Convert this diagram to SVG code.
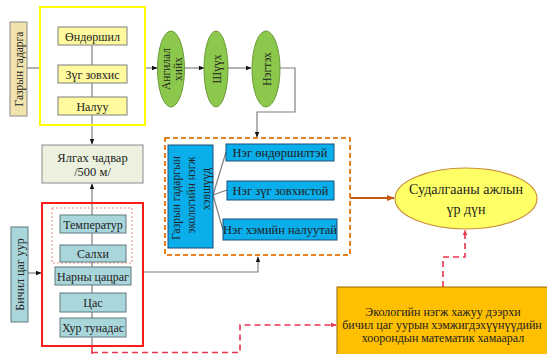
<svg xmlns="http://www.w3.org/2000/svg" width="547" height="354" viewBox="0 0 547 354" font-family="'Liberation Serif', 'DejaVu Serif', serif">
<defs>
<style>
text{font-family:"Liberation Serif","DejaVu Serif",serif;fill:#222;text-anchor:middle;dominant-baseline:central}
.t12{font-size:12px}
.t11{font-size:11.5px}
.lbl{fill:#F1E3AE;stroke:#8a8a8a;stroke-width:1}
.ybox{fill:#FFFA9E;stroke:#7f7f7f;stroke-width:1}
.tbox{fill:#A9D6DA;stroke:#5f7a7c;stroke-width:1}
.gel{fill:#8CC84B;stroke:#6a9a36;stroke-width:1}
.bbox{fill:#0AAEEA;stroke:#1f4e79;stroke-width:1}
.con{fill:none;stroke:#7f7f7f;stroke-width:1.2}
.red{fill:none;stroke:#E8344E;stroke-width:1.6;stroke-dasharray:6 4}
</style>
<marker id="ah" viewBox="0 0 10 10" refX="9" refY="5" markerWidth="6" markerHeight="6" orient="auto" markerUnits="userSpaceOnUse"><path d="M0,1 L10,5 L0,9 z" fill="#111"/></marker>
<marker id="ahr" viewBox="0 0 10 10" refX="9" refY="5" markerWidth="6" markerHeight="6" orient="auto" markerUnits="userSpaceOnUse"><path d="M0,1 L10,5 L0,9 z" fill="#E8344E"/></marker>
<marker id="aho" viewBox="0 0 10 10" refX="9" refY="5" markerWidth="8" markerHeight="8" orient="auto" markerUnits="userSpaceOnUse"><path d="M0,1 L10,5 L0,9 z" fill="#C55A11"/></marker>
</defs>
<rect width="547" height="354" fill="#fff"/>

<g id="connectors">
<path class="con" d="M27,68 H40"/>
<path class="con" d="M92,45 V65 M92,83 V97"/>
<path class="con" d="M92,115 V144" marker-end="url(#ah)"/>
<path class="con" d="M145,68 H157" marker-end="url(#ah)"/>
<path class="con" d="M185,68 H204" marker-end="url(#ah)"/>
<path class="con" d="M228,68 H251" marker-end="url(#ah)"/>
<path class="con" d="M279,68 H295 V112 H257 V137" marker-end="url(#ah)"/>
<path class="con" d="M92,215 V184" marker-end="url(#ah)"/>
<path class="con" d="M92,233 V245 M92,262 V267 M92,285 V293 M92,312 V318 M92,337 V346"/>
<path class="con" d="M28,273 H41" marker-end="url(#ah)"/>
<path class="con" d="M144,272 H258 V257" marker-end="url(#ah)"/>
<path class="con" d="M213,195 L226,152 M213,195 L227,190 M213,195 L223,230"/>
<path fill="none" stroke="#C55A11" stroke-width="2" d="M350,198 H394" marker-end="url(#aho)"/>
<path fill="none" stroke="#E8344E" stroke-width="1.6" d="M92,346 V354"/>
<path class="red" d="M92,352.5 H240 V325 H336" marker-end="url(#ahr)"/>
<path class="red" d="M443,287 V257 H465 V230" marker-end="url(#ahr)"/>
</g>

<g id="gazryn-gadarga">
<rect class="lbl" x="10" y="22" width="17" height="94"/>
<text class="t11" transform="translate(18.5,69) rotate(-90)">Газрын гадарга</text>
</g>

<g id="yellow-group">
<rect x="40" y="7" width="105" height="118" fill="none" stroke="#FFFF00" stroke-width="2"/>
</g>
<g id="ondorshil">
<rect class="ybox" x="58" y="27" width="69" height="18"/>
<text class="t12" x="92.5" y="36.5">Өндөршил</text>
</g>
<g id="zug-zovhis">
<rect class="ybox" x="58" y="65" width="69" height="18"/>
<text class="t12" x="92.5" y="74.5">Зүг зовхис</text>
</g>
<g id="naluu">
<rect class="ybox" x="58" y="97" width="69" height="18"/>
<text class="t12" x="92.5" y="106.5">Налуу</text>
</g>

<g id="angilal">
<ellipse class="gel" cx="171" cy="69" rx="13.5" ry="38"/>
<text class="t11" transform="translate(165.5,69) rotate(-90)">Ангилал</text>
<text class="t11" transform="translate(177.5,69) rotate(-90)">хийх</text>
</g>
<g id="shuuh">
<ellipse class="gel" cx="216" cy="69" rx="12" ry="38"/>
<text class="t11" transform="translate(216.5,69) rotate(-90)">Шүүх</text>
</g>
<g id="negteh">
<ellipse class="gel" cx="266" cy="69" rx="14" ry="38"/>
<text class="t11" transform="translate(266.5,69) rotate(-90)">Нэгтэх</text>
</g>

<g id="yalgah">
<rect x="42" y="145" width="101" height="38" fill="#EBF1DE" stroke="#8a8a8a" stroke-width="1"/>
<text x="92.5" y="157.5" style="font-size:12.5px">Ялгах чадвар</text>
<text x="92.5" y="172" style="font-size:12.5px">/500 м/</text>
</g>

<g id="bichil-tsag-uur">
<rect class="tbox" x="11" y="227" width="17" height="95"/>
<text class="t12" transform="translate(19.5,274.5) rotate(-90)">Бичил цаг уур</text>
</g>

<g id="red-group">
<rect x="42" y="203" width="101" height="143" fill="none" stroke="#FF1A1A" stroke-width="2"/>
<rect x="52" y="208" width="80" height="55" fill="none" stroke="#F08A8A" stroke-width="1" stroke-dasharray="2 2"/>
</g>
<g id="temperatur">
<rect class="tbox" x="60" y="215" width="66" height="18"/>
<text class="t12" x="93" y="224.5">Температур</text>
</g>
<g id="salhi">
<rect class="tbox" x="60" y="245" width="66" height="17"/>
<text class="t12" x="93" y="254">Салхи</text>
</g>
<g id="narny-tsatsrag">
<rect class="tbox" x="55" y="267" width="76" height="18"/>
<text class="t12" x="93" y="276.5">Нарны цацраг</text>
</g>
<g id="tsas">
<rect class="tbox" x="60" y="293" width="66" height="19"/>
<text class="t12" x="93" y="303">Цас</text>
</g>
<g id="hur-tunadas">
<rect class="tbox" x="60" y="318" width="66" height="19"/>
<text class="t12" x="93" y="328">Хур  тунадас</text>
</g>

<g id="orange-group">
<rect x="165" y="138" width="185" height="117" fill="none" stroke="#E9801F" stroke-width="2" stroke-dasharray="5 3"/>
</g>
<g id="hevshuud">
<rect class="bbox" x="168" y="145" width="45" height="103"/>
<text class="t11" transform="translate(176,198) rotate(-90)">Газрын гадаргын</text>
<text class="t11" transform="translate(191,195) rotate(-90)">экологийн нэгж</text>
<text class="t11" transform="translate(206,189) rotate(-90)">хэвшүүд</text>
</g>
<g id="neg-ondorshiltei">
<rect class="bbox" x="226" y="144" width="108" height="17"/>
<text x="280" y="153" style="font-size:12.5px">Нэг өндөршилтэй</text>
</g>
<g id="neg-zug">
<rect class="bbox" x="227" y="181" width="107" height="19"/>
<text x="280.5" y="191" style="font-size:12.5px">Нэг зүг зовхистой</text>
</g>
<g id="neg-hem">
<rect class="bbox" x="223" y="219" width="114" height="21"/>
<text x="280" y="230" style="font-size:12.5px">Нэг хэмийн налуутай</text>
</g>

<g id="ur-dun">
<ellipse cx="466" cy="198.5" rx="71" ry="30.5" fill="#FFFF66" stroke="#C8903A" stroke-width="1.2"/>
<text x="466" y="189" style="font-size:14px">Судалгааны ажлын</text>
<text x="466" y="209" style="font-size:14px">үр дүн</text>
</g>

<g id="hamaaral">
<rect x="337" y="287" width="212" height="70" fill="#FFC000" stroke="#9C6500" stroke-width="1"/>
<text x="443" y="311.5" style="font-size:12px">Экологийн нэгж хажуу  дээрхи</text>
<text x="442" y="324.5" style="font-size:12px">бичил цаг уурын  хэмжигдэхүүнүүдийн</text>
<text x="443" y="338" style="font-size:12px">хоорондын математик  хамаарал</text>
</g>
</svg>
